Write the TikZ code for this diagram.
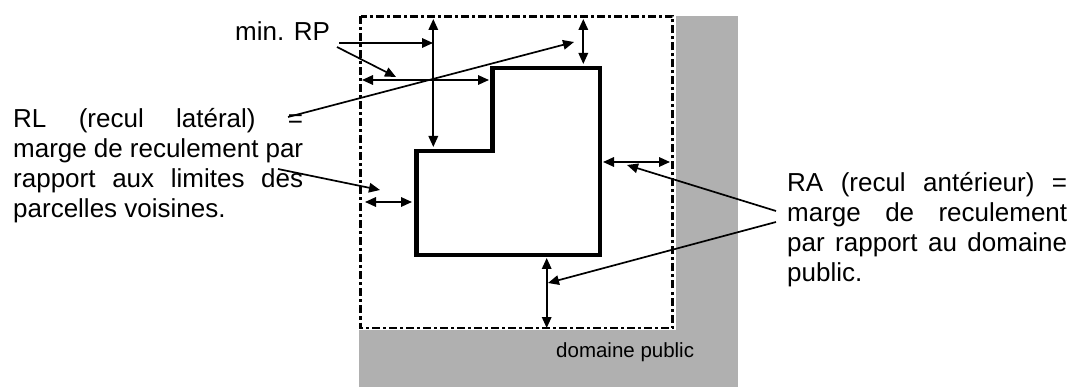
\documentclass[tikz,border=0pt]{standalone}
\usepackage{fontspec}
\setmainfont{Liberation Sans}
\usetikzlibrary{arrows.meta}
\definecolor{pubgray}{RGB}{176,176,176}
\tikzset{
  conn/.style={line width=1.7pt,-{Triangle[length=11pt,width=9.5pt]}},
  dbl/.style={line width=1.7pt,{Triangle[length=11pt,width=9.5pt]}-{Triangle[length=11pt,width=9.5pt]}},
  lbl/.style={anchor=base west,inner sep=0pt,font=\fontsize{26}{29.8}\selectfont,text=black},
  plot/.style={draw=black,line width=2.5pt,dash pattern=on 8pt off 3pt on 3pt off 3pt},
  bati/.style={draw=black,line width=4.6pt,line join=miter}
}
\begin{document}
\begin{tikzpicture}[x=1pt,y=-1pt]
\useasboundingbox (0,0) rectangle (1076,387);
\fill[pubgray] (359,16) rectangle (738,387);
\fill[white] (359,16) rectangle (676,330);
\draw[plot] (360.5,16.5) rectangle (672.5,328);
\draw[bati] (416.5,151) -- (492.5,151) -- (492.5,68) -- (600,68) -- (600,255) -- (416.5,255) -- cycle;

\node[lbl] (rl) at (13,128) {\vtop{\baselineskip=29.7pt
  \hbox to 290pt{RL\hfil(recul\hfil latéral)\hfil=}
  \hbox to 290pt{marge de reculement par}
  \hbox to 290pt{rapport\hfil aux\hfil limites\hfil des}
  \hbox{parcelles voisines.}}};
\node[lbl] (ra) at (787,192) {\vtop{\baselineskip=30pt
  \hbox to 280pt{RA\hfil(recul\hfil antérieur)\hfil=}
  \hbox to 280pt{marge\hfil de\hfil reculement}
  \hbox to 280pt{par\hfil rapport\hfil au\hfil domaine}
  \hbox{public.}}};
\node[lbl] (rp) at (235,41) {min. RP};
\node[lbl,font=\fontsize{20.5}{24}\selectfont] (dp) at (556,357) {domaine public};

\coordinate (v1a) at (433.3,19); \coordinate (v1b) at (433.3,147);
\coordinate (h1a) at (362,80);   \coordinate (h1b) at (489,80);
\coordinate (v2a) at (583.3,19); \coordinate (v2b) at (583.3,64);
\coordinate (h2a) at (365,202);  \coordinate (h2b) at (412,202);
\coordinate (h3a) at (603,162);  \coordinate (h3b) at (670,162);
\coordinate (v3a) at (546.7,258);\coordinate (v3b) at (546.7,328);
\draw[dbl] (v1a) -- (v1b);
\draw[dbl] (h1a) -- (h1b);
\draw[dbl] (v2a) -- (v2b);
\draw[dbl] (h2a) -- (h2b);
\draw[dbl] (h3a) -- (h3b);
\draw[dbl] (v3a) -- (v3b);

\coordinate (rp1) at (339,43); \coordinate (rp1e) at (433,43);
\coordinate (rp2) at (337,47); \coordinate (rp2e) at (396,77);
\coordinate (rl1) at (288,117); \coordinate (rl1e) at (574,42);
\coordinate (rl2) at (278,169); \coordinate (rl2e) at (380,190);
\coordinate (ra1) at (776,211); \coordinate (ra1e) at (627,165);
\coordinate (ra2) at (776,222); \coordinate (ra2e) at (548,283);
\draw[conn] (rp1) -- (rp1e);
\draw[conn] (rp2) -- (rp2e);
\draw[conn] (rl1) -- (rl1e);
\draw[conn] (rl2) -- (rl2e);
\draw[conn] (ra1) -- (ra1e);
\draw[conn] (ra2) -- (ra2e);
\end{tikzpicture}
\end{document}
